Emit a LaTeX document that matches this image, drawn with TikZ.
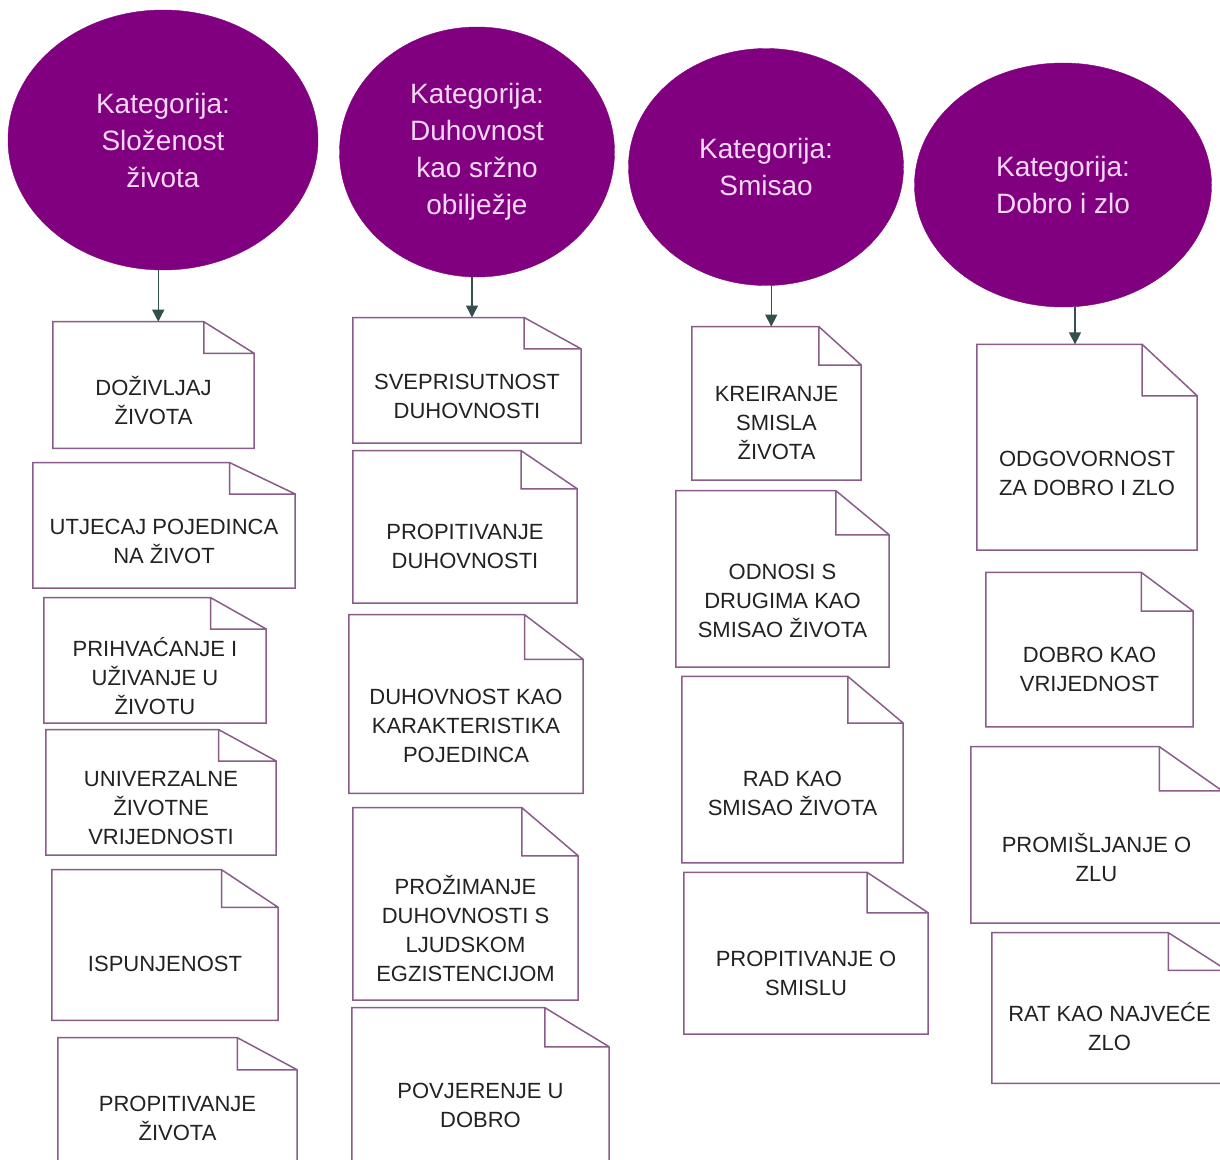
\documentclass[tikz,border=0pt]{standalone}
\usepackage{fontspec}
\setmainfont{Liberation Sans}
\usetikzlibrary{shapes.geometric}
\usetikzlibrary{arrows.meta}
\usetikzlibrary{calc}
\definecolor{katfill}{HTML}{800080}
\definecolor{kattext}{HTML}{F6D8F6}
\definecolor{noteline}{HTML}{8A5C8A}
\definecolor{notetext}{HTML}{222222}
\definecolor{arrowgray}{HTML}{34504C}

\begin{document}
\begin{tikzpicture}[x=1pt,y=-1pt,
  kat/.style={ellipse,fill=katfill,draw=katfill,inner sep=0pt,text=kattext,align=center,font=\fontsize{28}{37}\selectfont},
  notebox/.style={inner sep=0pt,text=notetext,align=center,font=\fontsize{22}{29}\selectfont},
  fold/.style={draw=noteline,line width=1.5pt,line join=miter},
  arr/.style={draw=arrowgray,line width=1.4pt,-{Triangle[width=12pt,length=12pt]}}]
\useasboundingbox[fill=white] (0,0) rectangle (1220,1159);

% categories
\node[kat,minimum width=310pt,minimum height=260pt] (k1) at (163,140) {Kategorija:\\Složenost\\života};
\node[kat,minimum width=275pt,minimum height=250pt] (k2) at (477,152) {Kategorija:\\Duhovnost\\kao sržno\\obilježje};
\node[kat,minimum width=275pt,minimum height=237pt] (k3) at (766,167) {Kategorija:\\Smisao};
\node[kat,minimum width=297pt,minimum height=244pt] (k4) at (1063,185) {Kategorija:\\Dobro i zlo};

% notes (text area below the fold)
\foreach \nm/\px/\py/\bw/\bh/\txt in {
  b11/153.5/400.8/201/94.5/{DOŽIVLJAJ\\ŽIVOTA},
  b12/164/541.1/262/93.8/{UTJECAJ POJEDINCA\\NA ŽIVOT},
  b13/155/676.1/222/93.8/{PRIHVAĆANJE I\\UŽIVANJE U\\ŽIVOTU},
  b14/161/808.1/230/93.8/{UNIVERZALNE\\ŽIVOTNE\\VRIJEDNOSTI},
  b15/165/963.8/226/112.5/{ISPUNJENOST},
  b16/177.5/1118/239/96/{PROPITIVANJE\\ŽIVOTA},
  b21/467/396/228/93.8/{SVEPRISUTNOST\\DUHOVNOSTI},
  b22/465/546/224/114/{PROPITIVANJE\\DUHOVNOSTI},
  b23/466/726.3/234/133.5/{DUHOVNOST KAO\\KARAKTERISTIKA\\POJEDINCA},
  b24/465.5/928/225/144/{PROŽIMANJE\\DUHOVNOSTI S\\LJUDSKOM\\EGZISTENCIJOM},
  b25/480.5/1105.5/257/117/{POVJERENJE U\\DOBRO},
  b31/776.5/422.6/169/114.8/{KREIRANJE\\SMISLA\\ŽIVOTA},
  b32/782.5/601/213/132/{ODNOSI S\\DRUGIMA KAO\\SMISAO ŽIVOTA},
  b33/792.5/793/221/139.5/{RAD KAO\\SMISAO ŽIVOTA},
  b34/806/973.5/244/121/{PROPITIVANJE O\\SMISLU},
  b41/1087/473/220/154/{ODGOVORNOST\\ZA DOBRO I ZLO},
  b42/1089.5/669/207/115.5/{DOBRO KAO\\VRIJEDNOST},
  b43/1096.5/857/251/132/{PROMIŠLJANJE O\\ZLU},
  b44/1109.5/1026.8/235/112.5/{RAT KAO NAJVEĆE\\ZLO}}
  \node[notebox,minimum width=\bw pt,minimum height=\bh pt] (\nm) at (\px,\py) {\txt};

\foreach \nm in {b11,b12,b13,b14,b15,b16,b21,b22,b23,b24,b25,b31,b32,b33,b34,b41,b42,b43,b44}{
  \coordinate (\nm-tl) at ($(\nm.north west)!-0.3333!(\nm.south west)$);
  \coordinate (\nm-tr) at ($(\nm.north east)!-0.3333!(\nm.south east)$);
  \coordinate (\nm-f) at ($(\nm-tl)!0.75!(\nm-tr)$);
  \draw[fold] (\nm.south west) -- (\nm-tl) -- (\nm-f) -- (\nm.north east) -- (\nm.south east) -- cycle
    (\nm-f) |- (\nm.north east);
}

\foreach \k/\nm in {k1/b11,k2/b21,k3/b31,k4/b41}{
  \coordinate (\k-a) at ($(\k.south)!0.5!(\k.south -| \nm.north)$);
  \draw[arr] (\k-a) -- (\k-a |- \nm-tl);
}
\end{tikzpicture}
\end{document}
